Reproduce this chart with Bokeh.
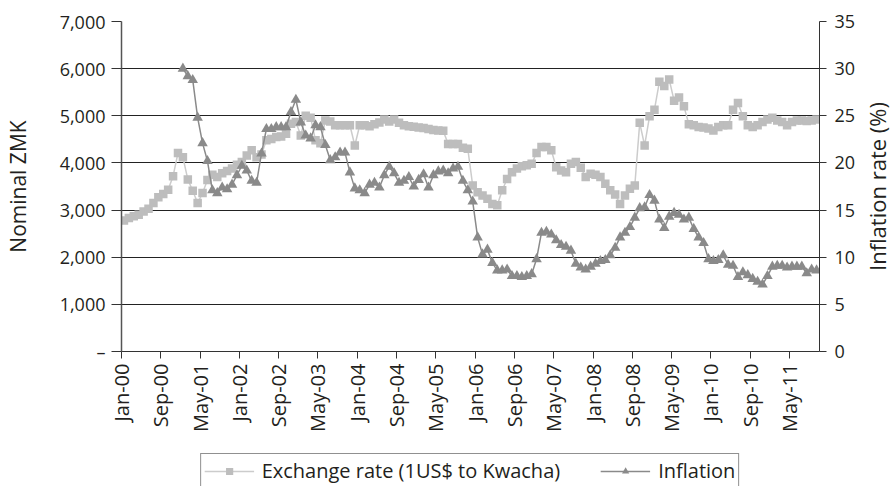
import numpy as np
from bokeh.plotting import figure
from bokeh.layouts import column, row
from bokeh.models import Range1d, LinearAxis, FixedTicker, Legend, LegendItem, Label
from bokeh.embed import file_html
from bokeh.resources import INLINE

# Monthly series, Jan-2000 .. Oct-2011
exchange = [
    2780, 2830, 2870, 2900, 2970, 3030, 3150, 3270, 3340, 3430, 3720, 4210,  # 2000
    4120, 3650, 3410, 3150, 3360, 3640, 3750, 3700, 3780, 3830, 3880, 3960,  # 2001
    4020, 4160, 4270, 4120, 4180, 4480, 4510, 4550, 4560, 4620, 4830, 4870,  # 2002
    4580, 5000, 4960, 4480, 4420, 4900, 4880, 4800, 4800, 4800, 4800, 4370,  # 2003
    4800, 4800, 4780, 4820, 4860, 4920, 4880, 4920, 4850, 4800, 4780, 4770,  # 2004
    4750, 4740, 4720, 4700, 4690, 4680, 4400, 4400, 4400, 4320, 4300, 3520,  # 2005
    3380, 3310, 3240, 3130, 3100, 3420, 3660, 3800, 3880, 3930, 3950, 3980,  # 2006
    4210, 4340, 4340, 4270, 3910, 3840, 3800, 3980, 4020, 3900, 3700, 3770,  # 2007
    3750, 3700, 3560, 3420, 3330, 3130, 3310, 3450, 3520, 4850, 4370, 4990,  # 2008
    5130, 5720, 5630, 5770, 5320, 5390, 5200, 4820, 4800, 4760, 4750, 4730,  # 2009
    4690, 4760, 4800, 4800, 5130, 5270, 4990, 4800, 4760, 4800, 4870, 4920,  # 2010
    4960, 4900, 4870, 4800, 4870, 4900, 4900, 4890, 4900, 4920,              # 2011
]
inflation = [
    None, None, None, None, None, None, None, None, None, None, None, None,  # 2000
    30.0, 29.2, 28.8, 24.8, 22.1, 20.2, 17.1, 16.8, 17.4, 17.2, 17.7, 18.7,  # 2001
    19.7, 19.2, 18.1, 17.9, 21.0, 23.6, 23.6, 23.8, 23.8, 23.8, 25.4, 26.7,  # 2002
    24.3, 22.9, 22.6, 24.0, 23.8, 21.9, 20.3, 20.6, 21.1, 21.1, 19.0, 17.3,  # 2003
    17.1, 16.8, 17.7, 17.9, 17.4, 18.7, 19.6, 18.9, 17.9, 18.1, 18.5, 17.5,  # 2004
    18.2, 18.8, 17.4, 18.7, 19.1, 19.2, 18.9, 19.4, 19.6, 18.1, 17.1, 15.9,  # 2005
    12.1, 10.3, 10.8, 9.4, 8.6, 8.6, 8.7, 8.0, 8.0, 7.9, 8.0, 8.2,           # 2006
    9.8, 12.6, 12.7, 12.4, 11.8, 11.3, 11.1, 10.7, 9.3, 8.9, 8.7, 9.0,       # 2007
    9.3, 9.6, 9.7, 10.2, 11.0, 12.1, 12.6, 13.2, 14.2, 15.2, 15.3, 16.6,     # 2008
    16.0, 14.0, 13.1, 14.3, 14.7, 14.5, 14.0, 14.2, 13.0, 12.1, 11.5, 9.8,   # 2009
    9.6, 9.7, 10.2, 9.2, 9.1, 7.9, 8.4, 8.1, 7.7, 7.4, 7.1, 8.0,             # 2010
    9.0, 9.1, 9.1, 8.9, 9.0, 9.0, 9.0, 8.3, 8.7, 8.6,                        # 2011
]
tick_labels = ["Jan-00", "Sep-00", "May-01", "Jan-02", "Sep-02", "May-03", "Jan-04",
               "Sep-04", "May-05", "Jan-06", "Sep-06", "May-07", "Jan-08", "Sep-08",
               "May-09", "Jan-10", "Sep-10", "May-11"]
left_ticks = [0, 1000, 2000, 3000, 4000, 5000, 6000, 7000]
left_labels = ["–", "1,000", "2,000", "3,000", "4,000", "5,000", "6,000", "7,000"]
right_ticks = [0, 5, 10, 15, 20, 25, 30, 35]
series_names = ["Exchange rate (1US$ to Kwacha)", "Inflation"]
left_title = "Nominal ZMK"
right_title = "Inflation rate (%)"

n = len(exchange)
month_idx = np.arange(n)
x = month_idx + 0.5
infl = np.array([np.nan if v is None else v for v in inflation], dtype=float)

FONT = "Open Sans"
TXT = "#231f20"
EXC_C = "#bdbdbd"
EXC_L = "#cccccc"
INF_C = "#8a8a8a"

TOP, BOTTOM, MAIN_H = 21, 95, 446
MAIN_W, SIDE_W = 858, 35

p = figure(width=MAIN_W, height=MAIN_H, output_backend="svg", toolbar_location=None,
           x_range=Range1d(0, 142.1), y_range=Range1d(0, 7000),
           min_border_left=118, min_border_right=MAIN_W - 820, min_border_top=TOP,
           min_border_bottom=BOTTOM)
p.extra_y_ranges = {"infl": Range1d(0, 35)}
p.outline_line_color = None

# grid
p.xgrid.grid_line_color = None
p.ygrid.grid_line_color = "#222222"
p.ygrid.grid_line_width = 1
p.ygrid.ticker = FixedTicker(ticks=left_ticks[1:])

# x axis
xa = p.xaxis[0]
xa.ticker = FixedTicker(ticks=[8 * i for i in range(len(tick_labels))])
xa.major_label_overrides = {8 * i: lab for i, lab in enumerate(tick_labels)}
xa.major_label_orientation = np.pi / 2
xa.minor_tick_line_color = None
xa.major_tick_in = 0
xa.major_tick_out = 7
xa.axis_line_color = "#333333"
xa.major_tick_line_color = "#333333"
xa.major_label_text_font = FONT
xa.major_label_text_font_size = "20px"
xa.major_label_text_color = TXT
xa.major_label_standoff = 5

# left axis
ya = p.yaxis[0]
ya.ticker = FixedTicker(ticks=left_ticks)
ya.major_label_overrides = {t: l for t, l in zip(left_ticks, left_labels)}
ya.minor_tick_line_color = None
ya.major_tick_in = 0
ya.major_tick_out = 10
ya.axis_line_color = "#555555"
ya.axis_line_width = 1.5
ya.major_tick_line_color = "#333333"
ya.major_label_text_font = FONT
ya.major_label_text_font_size = "18px"
ya.major_label_text_color = TXT
ya.major_label_standoff = 6
ya.axis_label = left_title
ya.axis_label_text_font = FONT
ya.axis_label_text_font_size = "21px"
ya.axis_label_text_font_style = "normal"
ya.axis_label_text_color = TXT
ya.axis_label_standoff = 25

# right axis (its title is set in a narrow strip to the right)
ra = LinearAxis(y_range_name="infl", ticker=FixedTicker(ticks=right_ticks))
ra.minor_tick_line_color = None
ra.major_tick_in = 0
ra.major_tick_out = 7
ra.axis_line_color = "#333333"
ra.major_tick_line_color = "#333333"
ra.major_label_text_font = FONT
ra.major_label_text_font_size = "18px"
ra.major_label_text_color = TXT
ra.major_label_standoff = 8
p.add_layout(ra, "right")

# series
p.line(x, exchange, line_color=EXC_L, line_width=1.5)
p.scatter(x, exchange, marker="square", size=8.5, fill_color=EXC_C, line_color=None)
p.line(x, infl, line_color=INF_C, line_width=1.5, y_range_name="infl")
p.scatter(x, infl, marker="triangle", size=10.5, fill_color=INF_C, line_color=None,
          y_range_name="infl")

# right-hand title strip
side = figure(width=SIDE_W, height=MAIN_H, output_backend="svg", toolbar_location=None,
              x_axis_location=None, y_axis_location=None,
              x_range=Range1d(0, SIDE_W), y_range=Range1d(0, 35),
              min_border_left=0, min_border_right=0, min_border_top=TOP,
              min_border_bottom=BOTTOM)
side.outline_line_color = None
side.grid.grid_line_color = None
side.add_layout(Label(x=18, y=(right_ticks[0] + right_ticks[-1]) / 2, text=right_title,
                      angle=np.pi / 2, text_align="center", text_baseline="middle",
                      text_font=FONT, text_font_size="22px", text_color=TXT))

# legend strip below the chart (keys use the same series, drawn outside its view)
lg = figure(width=MAIN_W + SIDE_W, height=40, output_backend="svg", toolbar_location=None,
            x_axis_location=None, y_axis_location=None,
            x_range=Range1d(-2, -1), y_range=Range1d(-2, -1),
            min_border_left=46, min_border_right=0, min_border_top=0, min_border_bottom=0)
lg.outline_line_color = None
lg.grid.grid_line_color = None
k1 = lg.line(x, exchange, line_color=EXC_L, line_width=1.5)
k1s = lg.scatter(x, exchange, marker="square", size=6, fill_color=EXC_C, line_color=None)
k2 = lg.line(x, infl, line_color=INF_C, line_width=1.5)
k2s = lg.scatter(x, infl, marker="triangle", size=7, fill_color=INF_C, line_color=None)
legend = Legend(items=[LegendItem(label=series_names[0], renderers=[k1, k1s]),
                       LegendItem(label=series_names[1], renderers=[k2, k2s])],
                orientation="horizontal", location="top_center",
                label_text_font=FONT, label_text_font_size="20px", label_text_color=TXT,
                border_line_color="#222222", border_line_width=1,
                glyph_width=50, glyph_height=18, spacing=40, padding=3, margin=7,
                label_standoff=8)
lg.add_layout(legend, "center")

layout = column(row(p, side, spacing=0), lg, spacing=0)
open("out.html", "w").write(file_html(layout, INLINE))
